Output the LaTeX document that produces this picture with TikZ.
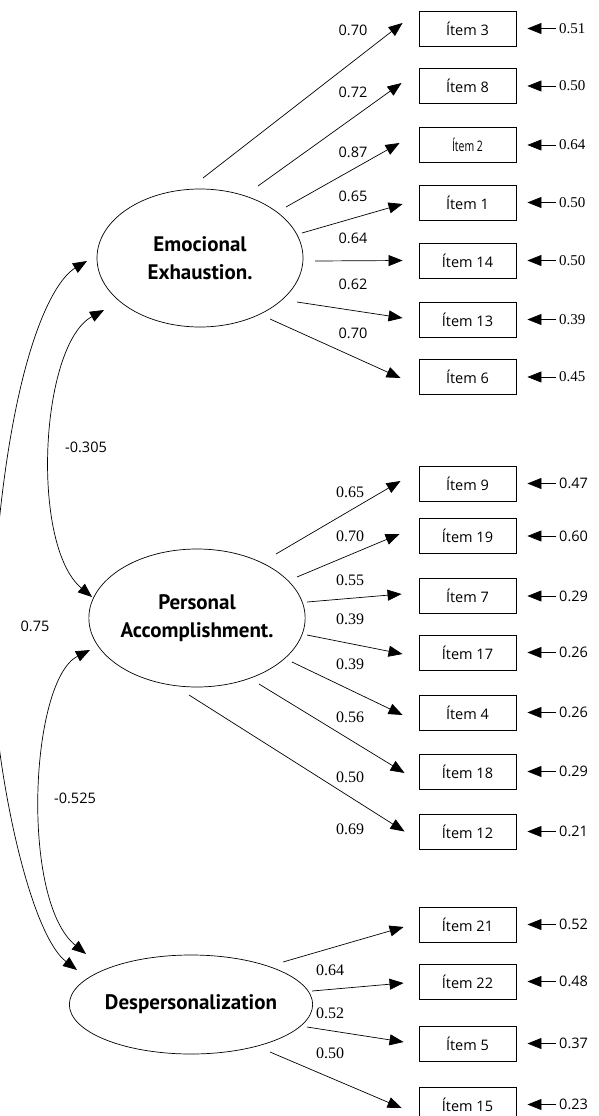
\documentclass[tikz,border=0pt]{standalone}
\usepackage{fontspec}
\usepackage{graphicx}
\setmainfont{Liberation Serif}
\newfontfamily\ptsans{PT Sans}
\newfontfamily\opsans{Open Sans}
\usetikzlibrary{shapes.geometric,arrows.meta}
\tikzset{
  item/.style={draw, line width=0.9pt, minimum width=97pt, minimum height=35pt, inner sep=0pt, font=\opsans\fontsize{14.5}{16}\selectfont},
  lat/.style={draw, ellipse, line width=0.7pt, inner sep=0pt, align=center, font=\ptsans\bfseries\fontsize{21}{28}\selectfont},
  arr/.style={-{Triangle[length=14pt,width=11pt]}, line width=0.7pt},
  dbl/.style={{Triangle[length=14pt,width=11pt]}-{Triangle[length=14pt,width=11pt]}, line width=0.7pt},
  slab/.style={font=\opsans\fontsize{14.5}{16}\selectfont, inner sep=0pt},
  rlab/.style={font=\fontsize{16}{18}\selectfont, inner sep=0pt},
  serr/.style={slab, anchor=west, inner sep=3pt},
  rerr/.style={font=\fontsize{15}{17}\selectfont, anchor=west, inner sep=3pt},
}
\begin{document}
\begin{tikzpicture}[x=1pt,y=-1pt]
\useasboundingbox (0,0) rectangle (599,1116);
% latent variables
\node[lat, minimum width=206pt, minimum height=138pt] (EE) at (200,258) {Emocional\\Exhaustion.};
\node[lat, minimum width=206pt, minimum height=138pt] (PA) at (197,618) {Personal\\Accomplishment.};
\node[lat, minimum width=222pt, minimum height=99pt] (DP) at (191,1004.5) {Despersonalization};
% items
\node[item] (i3)  at (467.5,28.5) {Ítem 3};
\node[item] (i8)  at (467.5,86) {Ítem 8};
\node[item] (i2)  at (467.5,145) {\scalebox{0.72}[1]{Ítem 2}};
\node[item] (i1)  at (467.5,202.5) {Ítem 1};
\node[item] (i14) at (467.5,260.5) {Ítem 14};
\node[item] (i13) at (467.5,319.5) {Ítem 13};
\node[item] (i6)  at (467.5,377) {Ítem 6};
\node[item] (i9)  at (467.5,483.5) {Ítem 9};
\node[item] (i19) at (467.5,536) {Ítem 19};
\node[item] (i7)  at (467.5,596) {Ítem 7};
\node[item] (i17) at (467.5,652.5) {Ítem 17};
\node[item] (i4)  at (467.5,712.5) {Ítem 4};
\node[item] (i18) at (467.5,771.5) {Ítem 18};
\node[item] (i12) at (467.5,831.5) {Ítem 12};
\node[item] (i21) at (467.5,924.5) {Ítem 21};
\node[item] (i22) at (467.5,981.5) {Ítem 22};
\node[item] (i5)  at (467.5,1043.5) {Ítem 5};
\node[item] (i15) at (467.5,1104.5) {Ítem 15};
% start points of loadings
\coordinate (s3) at (203,178);
\coordinate (s8) at (258,186);
\coordinate (s2) at (286,207);
\coordinate (s1) at (302,233);
\coordinate (s14) at (315,261);
\coordinate (s13) at (297,302);
\coordinate (s6) at (270,319);
\coordinate (s9) at (276,554);
\coordinate (s19) at (297,577);
\coordinate (s7) at (307,602);
\coordinate (s17) at (307,635);
\coordinate (s4) at (292,662);
\coordinate (s18) at (259,684);
\coordinate (s12) at (189,695);
\coordinate (s21) at (283,962);
\coordinate (s22) at (312,991);
\coordinate (s5) at (307,1027);
\coordinate (s15) at (270,1052);
% loadings EE
\draw[arr] (s3) -- ([xshift=-16pt,yshift=5.5pt]i3.west);
\draw[arr] (s8) -- ([xshift=-17pt,yshift=3pt]i8.west);
\draw[arr] (s2) -- ([xshift=-19pt,yshift=2pt]i2.west);
\draw[arr] (s1) -- ([xshift=-16pt,yshift=-1.5pt]i1.west);
\draw[arr] (s14) -- ([xshift=-16pt]i14.west);
\draw[arr] (s13) -- ([xshift=-16pt,yshift=1.5pt]i13.west);
\draw[arr] (s6) -- ([xshift=-18pt,yshift=-1pt]i6.west);
% loadings PA
\draw[arr] (s9) -- ([xshift=-18pt,yshift=2.5pt]i9.west);
\draw[arr] (s19) -- ([xshift=-19pt,yshift=2pt]i19.west);
\draw[arr] (s7) -- ([xshift=-17pt,yshift=2pt]i7.west);
\draw[arr] (s17) -- ([xshift=-16pt,yshift=-1.5pt]i17.west);
\draw[arr] (s4) -- ([xshift=-16pt,yshift=-2.5pt]i4.west);
\draw[arr] (s18) -- ([xshift=-14pt,yshift=-1.5pt]i18.west);
\draw[arr] (s12) -- ([xshift=-14pt]i12.west);
% loadings DP
\draw[arr] (s21) -- ([xshift=-15pt,yshift=-2.5pt]i21.west);
\draw[arr] (s22) -- ([xshift=-15pt,yshift=-1.5pt]i22.west);
\draw[arr] (s5) -- ([xshift=-15pt,yshift=1.5pt]i5.west);
\draw[arr] (s15) -- ([xshift=-17pt,yshift=-3.5pt]i15.west);
% loading labels
\node[slab] (l3) at (353,30) {0.70};
\node[slab] (l8) at (353,92) {0.72};
\node[slab] (l2) at (353,152) {0.87};
\node[slab] (l1) at (353,196) {0.65};
\node[slab] (l14) at (353,238) {0.64};
\node[slab] (l13) at (353,284) {0.62};
\node[slab] (l6) at (353,333) {0.70};
\node[rlab] (l9) at (350,492) {0.65};
\node[rlab] (l19) at (350,536) {0.70};
\node[rlab] (l7) at (350,580) {0.55};
\node[rlab] (l17) at (350,619) {0.39};
\node[rlab] (l4) at (350,664) {0.39};
\node[rlab] (l18) at (350,717) {0.56};
\node[rlab] (l12a) at (350,777) {0.50};
\node[rlab] (l12b) at (350,829) {0.69};
\node[rlab] (l22) at (330,970) {0.64};
\node[rlab] (l5) at (330,1013) {0.52};
\node[rlab] (l15) at (330,1053) {0.50};
% error terms
\node[rerr] (e3)  at (556,28.5) {0.51};
\node[rerr] (e8)  at (556,86) {0.50};
\node[rerr] (e2)  at (556,145) {0.64};
\node[rerr] (e1)  at (556,202.5) {0.50};
\node[rerr] (e14) at (556,260.5) {0.50};
\node[rerr] (e13) at (556,319.5) {0.39};
\node[rerr] (e6)  at (556,377) {0.45};
\node[serr] (e9)  at (556,483.5) {0.47};
\node[serr] (e19) at (556,536) {0.60};
\node[serr] (e7)  at (556,596) {0.29};
\node[serr] (e17) at (556,652.5) {0.26};
\node[serr] (e4)  at (556,712.5) {0.26};
\node[serr] (e18) at (556,771.5) {0.29};
\node[serr] (e12) at (556,831.5) {0.21};
\node[serr] (e21) at (556,924.5) {0.52};
\node[serr] (e22) at (556,981.5) {0.48};
\node[serr] (e5)  at (556,1043.5) {0.37};
\node[serr] (e15) at (556,1104.5) {0.23};
\foreach \k in {3,8,2,1,14,13,6,9,19,7,17,4,18,12,21,22,5,15}
  \draw[arr] (e\k.west) -- ([xshift=11pt]i\k.east);
% correlations
\coordinate (ca) at (87,261);
\coordinate (cb) at (77,970);
\coordinate (cc) at (104,310);
\coordinate (cd) at (92,597);
\coordinate (ce) at (90,650);
\coordinate (cf) at (86,954);
\draw[dbl] (ca) .. controls (50,283) and (5,370) .. (-8,615) .. controls (-14,730) and (25,930) .. (cb);
\draw[dbl] (cc) .. controls (40,345) and (30,545) .. (cd);
\draw[dbl] (ce) .. controls (30,680) and (20,900) .. (cf);
\node[slab] (r1) at (86,447) {-0.305};
\node[slab] (r2) at (35,626) {0.75};
\node[slab] (r3) at (75,798) {-0.525};
\end{tikzpicture}
\end{document}
